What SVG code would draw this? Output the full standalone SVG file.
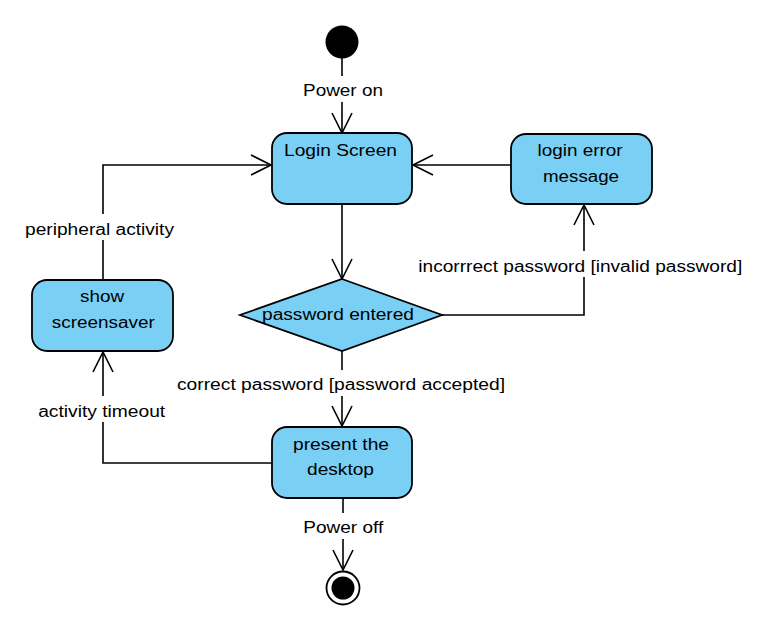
<svg xmlns="http://www.w3.org/2000/svg" width="773" height="630" viewBox="0 0 773 630">
<style>
.node{fill:#7ACFF5;stroke:#000;stroke-width:1.8}
.edge{fill:none;stroke:#000;stroke-width:1.6}
.bg{fill:#fff;stroke:none}
text{font-family:"Liberation Sans",Arial,sans-serif;font-size:16px;fill:#000;text-anchor:middle}
</style>
<defs>
<marker id="arr" markerUnits="userSpaceOnUse" viewBox="-22 -12 24 24" refX="0" refY="0" markerWidth="24" markerHeight="24" orient="auto" overflow="visible">
<path d="M-20,-10 L0,0 L-20,10" fill="none" stroke="#000" stroke-width="1.6"/>
</marker>
</defs>
<rect width="773" height="630" fill="#fff"/>
<g id="connectors">
<path class="edge" d="M342,58 V133" marker-end="url(#arr)"/>
<rect class="bg" x="300" y="76" width="86" height="26"/>
<text x="343" y="96" textLength="80" lengthAdjust="spacingAndGlyphs">Power on</text>
<path class="edge" d="M342,205 V279" marker-end="url(#arr)"/>
<path class="edge" d="M442,315 H584 V205" marker-end="url(#arr)"/>
<rect class="bg" x="415" y="251" width="331" height="26"/>
<text x="580.3" y="271.7" textLength="324" lengthAdjust="spacingAndGlyphs">incorrrect password [invalid password]</text>
<path class="edge" d="M511,165 H413" marker-end="url(#arr)"/>
<path class="edge" d="M342,351 V426" marker-end="url(#arr)"/>
<rect class="bg" x="173" y="370" width="336" height="26"/>
<text x="341" y="390" textLength="328" lengthAdjust="spacingAndGlyphs">correct password [password accepted]</text>
<path class="edge" d="M343,498 V570" marker-end="url(#arr)"/>
<rect class="bg" x="300" y="513" width="86" height="26"/>
<text x="343.3" y="533" textLength="80" lengthAdjust="spacingAndGlyphs">Power off</text>
<path class="edge" d="M272,463 H103 V352" marker-end="url(#arr)"/>
<rect class="bg" x="35" y="396" width="134" height="26"/>
<text x="101.7" y="416.7" textLength="127" lengthAdjust="spacingAndGlyphs">activity timeout</text>
<path class="edge" d="M103,280 V165 H271" marker-end="url(#arr)"/>
<rect class="bg" x="22" y="214" width="156" height="26"/>
<text x="99.5" y="235" textLength="149" lengthAdjust="spacingAndGlyphs">peripheral activity</text>
</g>
<g id="start">
<circle cx="342" cy="42" r="16.5" fill="#000"/>
</g>
<g id="login-screen">
<rect class="node" x="272" y="133" width="140" height="71" rx="15"/>
<text x="340.5" y="156" textLength="113" lengthAdjust="spacingAndGlyphs">Login Screen</text>
</g>
<g id="login-error">
<rect class="node" x="511" y="134" width="141" height="70" rx="15"/>
<text x="580" y="156" textLength="85" lengthAdjust="spacingAndGlyphs">login error</text>
<text x="581" y="181.5" textLength="76" lengthAdjust="spacingAndGlyphs">message</text>
</g>
<g id="password-entered">
<polygon class="node" points="342,279 442,315 342,351 240,315"/>
<text x="338" y="320" textLength="152" lengthAdjust="spacingAndGlyphs">password entered</text>
</g>
<g id="show-screensaver">
<rect class="node" x="32" y="280" width="141" height="71" rx="15"/>
<text x="102" y="301.7" textLength="44" lengthAdjust="spacingAndGlyphs">show</text>
<text x="103.3" y="327.7" textLength="103" lengthAdjust="spacingAndGlyphs">screensaver</text>
</g>
<g id="present-desktop">
<rect class="node" x="272" y="427" width="140" height="71" rx="15"/>
<text x="341" y="450" textLength="96" lengthAdjust="spacingAndGlyphs">present the</text>
<text x="340.5" y="475" textLength="67" lengthAdjust="spacingAndGlyphs">desktop</text>
</g>
<g id="end">
<circle cx="343" cy="588" r="16.5" fill="#fff" stroke="#000" stroke-width="1.8"/>
<circle cx="343" cy="588" r="11.5" fill="#000"/>
</g>
</svg>
